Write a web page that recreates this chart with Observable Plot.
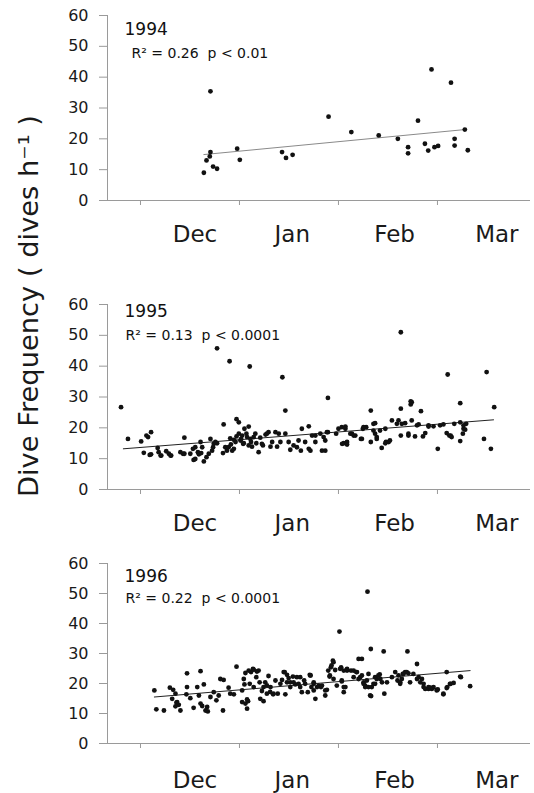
<!DOCTYPE html>
<html>
<head>
<meta charset="utf-8">
<script src="https://cdn.jsdelivr.net/npm/d3@7"></script>
<script src="https://cdn.jsdelivr.net/npm/@observablehq/plot@0.6"></script>
<style>
  html, body { margin: 0; padding: 0; background: #fff; }
  #chart { position: relative; width: 534px; height: 793px; overflow: hidden; }
  .panel { position: absolute; left: 0; }
  #ylab { position: absolute; left: 0; top: 0; }
</style>
</head>
<body>
<div id="chart"></div>
<script>
// ---- axis / label data ----
const monthTicks = [0, 30, 60, 90];            // day index of month boundaries (Dec 1 = 0)
const monthLabelPos = [16.5, 46, 77, 108];     // day index where month names sit
const monthNames = ["Dec", "Jan", "Feb", "Mar"];
const yTicks = [0, 10, 20, 30, 40, 50, 60];
const years = ["1994", "1995", "1996"];
const stats = ["R\u00b2 = 0.26 \u00a0p < 0.01", "R\u00b2 = 0.13 \u00a0p < 0.0001", "R\u00b2 = 0.22 \u00a0p < 0.0001"];
const yTitle = "Dive Frequency ( dives h\u207b\u00b9 )";

// ---- 1994 ----
const days1994 = [21.2, 19.2, 20, 21, 21.2, 22, 23.2, 29.3, 30.1, 42.9, 44.1, 46.1, 57, 63.9, 72.2,
  78, 81.1, 81.1, 84.1, 86.2, 87.2, 88.2, 89.1, 90.2, 94.1, 95.2, 95.2, 98.3, 99.2];
const freq1994 = [35.4, 9.0, 13.0, 14.3, 15.7, 11.0, 10.3, 16.8, 13.2, 15.7, 13.8, 14.8, 27.2, 22.2, 21.1,
  20.0, 17.3, 15.3, 25.9, 18.4, 16.2, 42.5, 17.3, 17.7, 38.2, 20.0, 17.8, 23.0, 16.3];
const fitDays1994 = [19.2, 98.3];
const fitFreq1994 = [14.9, 23.0];

// ---- 1995 ----
const days1995 = [-5.9, -3.8, 0.2, 1, 2.3, 3.2, 3.2, 5.2, 6.1, 7.8, 8.6, 9.3, 12.1, 13.3, 13.3, 15.1, 16.1, 16.6,
  17.4, 18.2, 18.4, 19.2, 20, 20.7, 21.2, 21.7, 22.2, 23.2, 23.2, 25, 25.2, 25.7, 26.2, 27, 27.2, 27.8, 28.3,
  28.8, 29.1, 29.8, 30.3, 30.8, 31.1, 31.5, 32.1, 32.8, 33.1, 33.3, 33.8, 34.3, 35.1, 35.8, 36.3, 37.1, 37.9,
  38.8, 39.4, 40.9, 41.4, 43, 43.9, 43.9, 44.9, 45.4, 46.4, 48.9, 49.9, 51, 51, 52, 53, 54.5, 55, 56, 56.8,
  56.8, 59.3, 61, 61.6, 62.1, 62.6, 64.1, 65.1, 66.8, 67.4, 68.4, 69.8, 69.8, 70.6, 71.1, 71.6, 72.6, 73.1,
  74.4, 75.6, 76.2, 77.7, 78.9, 78.9, 78.9, 80.2, 81.2, 81.9, 81.9, 82.2, 83.2, 84.3, 85, 86.3, 87.3, 88.8,
  90.1, 90.8, 92.8, 93.1, 94, 95.1, 96.9, 96.9, 97.9, 98.7, 104.1, 104.9, 106.2, 107.2,
  1.8, 2.8, 5.5, 6.3, 9.1, 12.9, 15.9, 16.6, 17.7, 18.7, 22, 22.7, 26.7, 27.4, 28.3, 29.1, 29.8, 30.5, 31.3,
  32.3, 32.8, 33.5, 34.8, 36.8, 38.3, 39.9, 41.9, 42.4, 47.4, 47.9, 48.6,
  51.5, 53, 55.5, 56, 56.5, 60, 62.1, 61.1, 62.6, 63.6, 64.6, 67.6, 67.1, 71.1, 70.6, 71.6, 74.2, 75.2, 74.2,
  78.2, 79.2, 81.2, 82.2, 83.8, 85.6, 87.3, 91.8, 93.6, 94.3, 96.9, 97.9, 98.4, 97.7];
const freq1995 = [26.7, 16.4, 15.6, 11.9, 17.0, 18.6, 11.4, 13.5, 11.0, 12.4, 11.6, 11.0, 12.1, 16.8, 11.6, 11.6, 9.6, 13.7,
  12.1, 15.4, 11.8, 9.1, 10.5, 11.6, 16.4, 12.6, 14.8, 45.8, 15.0, 11.8, 21.1, 13.7, 12.6, 41.6, 16.6, 12.6, 13.2,
  15.4, 22.8, 21.8, 15.9, 17.5, 14.8, 19.7, 18.1, 20.4, 39.9, 16.4, 13.9, 17.0, 15.0, 12.1, 16.8, 14.3, 17.8,
  18.6, 13.9, 18.6, 13.9, 36.4, 25.6, 18.1, 15.4, 12.9, 14.3, 19.7, 15.4, 20.5, 13.2, 17.5, 15.4, 18.1, 12.6, 15.9, 29.7,
  18.6, 18.1, 20.2, 15.0, 19.7, 15.4, 18.1, 17.5, 16.4, 19.7, 20.2, 25.6, 15.4, 21.3, 18.1, 16.4, 19.1, 13.5,
  15.4, 15.9, 22.4, 21.3, 51.0, 26.2, 17.5, 21.5, 18.1, 28.6, 27.6, 22.4, 17.2, 21.1, 25.4, 18.3, 20.8, 20.5,
  13.2, 20.8, 18.3, 37.3, 17.5, 21.3, 28.0, 15.7, 19.7, 21.3, 16.4, 38.1, 13.2, 26.7,
  17.5, 11.2, 12.1, 11.0, 11.0, 11.6, 13.2, 9.9, 11.4, 13.7, 13.7, 15.4, 13.7, 14.6, 16.1, 17.2, 18.1, 16.4, 15.0,
  17.0, 14.3, 15.4, 18.1, 14.8, 18.1, 15.4, 18.1, 15.4, 13.7, 15.9, 12.6,
  12.6, 17.5, 17.0, 12.6, 18.6, 19.7, 20.4, 14.8, 14.6, 18.1, 17.5, 20.2, 16.4, 21.5, 19.1, 17.0, 15.0, 15.4, 19.7,
  22.4, 21.3, 17.5, 28.3, 20.8, 17.2, 20.4, 21.1, 17.5, 17.0, 21.8, 20.8, 19.4, 18.1];
const fitDays1995 = [-5.2, 107];
const fitFreq1995 = [13.2, 22.6];

// ---- 1996 ----
const days1996 = [4.2, 4.8, 7.1, 8.9, 9.9, 9.6, 10.6, 11.1, 12.1, 14.1, 14.1, 13.9, 15.1, 16.1, 17.2, 17.7, 18.2,
  18.2, 19.2, 19.7, 20.2, 21.2, 22.2, 23, 23.7, 24.2, 25, 25.2, 26.7, 27.2, 28.3, 29.1, 30.8, 31.3, 31.5, 31.8,
  32.3, 32.6, 33.1, 33.5, 34.1, 34.3, 35.1, 35.8, 36.3, 36.8, 37.3, 37.8, 38.3, 38.8, 39.4, 40.2, 40.9, 41.6,
  42.4, 42.9, 43.4, 43.9, 44.4, 45.4, 46.2, 46.9, 47.4, 47.9, 48.4, 48.9, 49.9, 50.7, 51.3, 51.8, 52.5, 53, 54,
  54.7, 56, 56.5, 57.3, 57.7, 58.3, 59, 59.5, 60.3, 60.8, 61, 62.1, 62.6, 63.8, 64.6, 65.4, 66.1, 66.6, 67.1,
  67.6, 68.1, 68.8, 69.1, 69.6, 69.8, 70.6, 71.1, 71.6, 72.5, 73.7, 73.9, 74.7, 76.2, 77.2, 77.9, 78.7, 79.5,
  80.2, 80.9, 81.2, 81.7, 83.8, 84.3, 85.3, 85.8, 87.3, 88.8, 89.8, 91.8, 92.8, 93, 94, 96.9, 99.9,
  58.5, 57.9, 56.9, 57.4, 58.5, 51.5, 52.5, 53.5, 55, 56, 60.5, 61.6, 62.6, 64.6, 61, 61.6, 61.6,
  65.6, 66.1, 67.1, 67.6, 68.6, 69.1, 68.1, 70.1, 71.1, 72.1, 72.7, 73.2, 69.9, 78.2, 79.2, 79.7, 80.7, 78.7,
  82.7, 83.8, 84.8, 85.8, 86.3, 87.3, 88.3, 89.8, 87.8, 90.1, 91.8, 92.8, 93.8, 94.9, 97.1,
  18.7, 20.4, 31.8, 32.8, 34.3, 35.3, 30.8, 32.3, 11.6, 10.9, 10.6, 36.1, 37.3, 38.3, 39.3, 40.3,
  43.7, 44.4, 44.9, 45.4, 46.4, 48.4, 49.6, 51.5, 52.5];
const freq1996 = [17.7, 11.4, 11.0, 18.6, 17.9, 14.9, 16.6, 13.8, 11.0, 23.4, 18.8, 16.4, 15.1, 11.9, 18.8, 16.0, 24.1,
  13.3, 19.7, 11.0, 12.2, 15.5, 17.1, 14.4, 16.0, 21.5, 11.0, 21.2, 18.6, 16.6, 16.4, 25.6, 17.7, 21.5, 19.7, 13.3,
  11.6, 14.1, 19.9, 23.8, 24.9, 18.8, 22.1, 24.3, 14.9, 17.5, 14.1, 20.4, 16.6, 22.5, 18.8, 16.4, 21.0, 16.6,
  19.9, 21.2, 23.8, 16.4, 20.4, 18.8, 22.3, 19.7, 22.1, 19.9, 18.8, 17.1, 19.9, 17.1, 22.9, 18.8, 17.7, 14.9, 19.3,
  18.8, 16.0, 17.9, 22.3, 25.4, 27.6, 24.5, 19.3, 37.3, 25.4, 21.0, 18.8, 24.9, 24.3, 22.1, 23.8, 28.2, 22.1, 28.2,
  20.4, 19.3, 50.6, 23.2, 16.0, 31.5, 19.9, 22.1, 21.5, 23.0, 30.7, 16.6, 20.4, 22.1, 23.8, 21.0, 19.9, 23.2,
  23.8, 30.7, 23.4, 20.4, 26.5, 22.1, 21.5, 19.9, 18.8, 18.8, 17.9, 16.4, 23.8, 18.8, 19.9, 22.3, 19.1,
  27.1, 26.0, 24.3, 22.7, 21.5, 22.7, 19.9, 18.8, 19.3, 17.7, 24.9, 24.3, 24.3, 24.3, 20.7, 18.8, 17.1,
  23.8, 21.5, 22.7, 19.9, 21.0, 18.8, 18.8, 18.8, 19.9, 22.7, 21.5, 20.4, 15.8, 22.7, 21.5, 23.2, 23.8, 20.4,
  23.2, 21.5, 20.4, 18.8, 18.2, 18.2, 18.2, 17.7, 18.6, 18.0, 16.6, 18.5, 19.9, 20.2, 22.1,
  12.5, 10.7, 23.5, 24.3, 24.6, 24.0, 13.8, 14.7, 12.9, 13.6, 12.4, 20.4, 18.8, 19.4, 17.2, 16.6,
  23.8, 22.9, 21.8, 20.4, 20.4, 22.1, 21.0, 22.7, 20.4];
const fitDays1996 = [4.2, 99.9];
const fitFreq1996 = [15.5, 24.3];

// ---- build ----
const FONT = '"DejaVu Sans", sans-serif';
const panels = [
  {year: years[0], stat: stats[0], days: days1994, freq: freq1994, fitDays: fitDays1994, fitFreq: fitFreq1994,
   top: 0, inner: 185, bottom: 55, monthPad: 25.4, fitColor: "#8a8a8a", titleDx: 17, titleDy: 7, statDx: 24, statDy: 33},
  {year: years[1], stat: stats[1], days: days1995, freq: freq1995, fitDays: fitDays1995, fitFreq: fitFreq1995,
   top: 289, inner: 185, bottom: 55, monthPad: 24.7, fitColor: "#222", titleDx: 17, titleDy: 0, statDx: 18, statDy: 26},
  {year: years[2], stat: stats[2], days: days1996, freq: freq1996, fitDays: fitDays1996, fitFreq: fitFreq1996,
   top: 548, inner: 180, bottom: 50, monthPad: 28.5, fitColor: "#222", titleDx: 17, titleDy: 6, statDx: 18, statDy: 30}
];

const chart = document.getElementById("chart");

for (const p of panels) {
  const pts = p.days.map((d, i) => ({day: d, freq: p.freq[i]}));
  const fit = p.fitDays.map((d, i) => ({day: d, freq: p.fitFreq[i]}));
  const svg = Plot.plot({
    width: 534,
    height: 15 + p.inner + p.bottom,
    marginLeft: 107, marginRight: 4, marginTop: 15, marginBottom: p.bottom,
    style: {fontFamily: FONT, background: "transparent", overflow: "visible"},
    x: {domain: [-10, 118.2], label: null},
    y: {domain: [0, 60], label: null},
    marks: [
      Plot.ruleY([0], {stroke: "#9a9a9a", insetLeft: -8}),
      Plot.ruleX([-10], {y1: 0, y2: 60, stroke: "#9a9a9a"}),
      Plot.axisY({ticks: yTicks, tickSize: 8, tickPadding: 11, stroke: "#9a9a9a", fill: "#1a1a1a",
                  fontSize: 16, label: null}),
      Plot.axisX({ticks: monthTicks, tickSize: 5, tickFormat: () => "", stroke: "#9a9a9a", label: null}),
      Plot.axisX({ticks: monthLabelPos, tickSize: 0, tickPadding: p.monthPad,
                  tickFormat: d => monthNames[monthLabelPos.indexOf(d)], fontSize: 23, fill: "#1a1a1a", label: null}),
      Plot.line(fit, {x: "day", y: "freq", stroke: p.fitColor, strokeWidth: 1}),
      Plot.dot(pts, {x: "day", y: "freq", r: 2.4, fill: "#111", stroke: "none"}),
      Plot.text([p.year], {frameAnchor: "top-left", textAnchor: "start", lineAnchor: "top",
                           dx: p.titleDx, dy: p.titleDy, fontSize: 17, fill: "#111"}),
      Plot.text([p.stat], {frameAnchor: "top-left", textAnchor: "start", lineAnchor: "top",
                           dx: p.statDx, dy: p.statDy, fontSize: 14, fill: "#111"})
    ]
  });
  svg.classList.add("panel");
  svg.style.top = p.top + "px";
  chart.appendChild(svg);
}

// rotated y-axis title
const ns = "http://www.w3.org/2000/svg";
const lab = document.createElementNS(ns, "svg");
lab.setAttribute("id", "ylab");
lab.setAttribute("width", 534);
lab.setAttribute("height", 793);
lab.style.pointerEvents = "none";
const t = document.createElementNS(ns, "text");
t.setAttribute("transform", "translate(38,306) rotate(-90)");
t.setAttribute("text-anchor", "middle");
t.setAttribute("font-family", FONT);
t.setAttribute("font-size", 26);
t.setAttribute("fill", "#1a1a1a");
t.setAttribute("textLength", 382);
t.setAttribute("lengthAdjust", "spacingAndGlyphs");
t.textContent = yTitle;
lab.appendChild(t);
chart.appendChild(lab);
</script>
</body>
</html>
